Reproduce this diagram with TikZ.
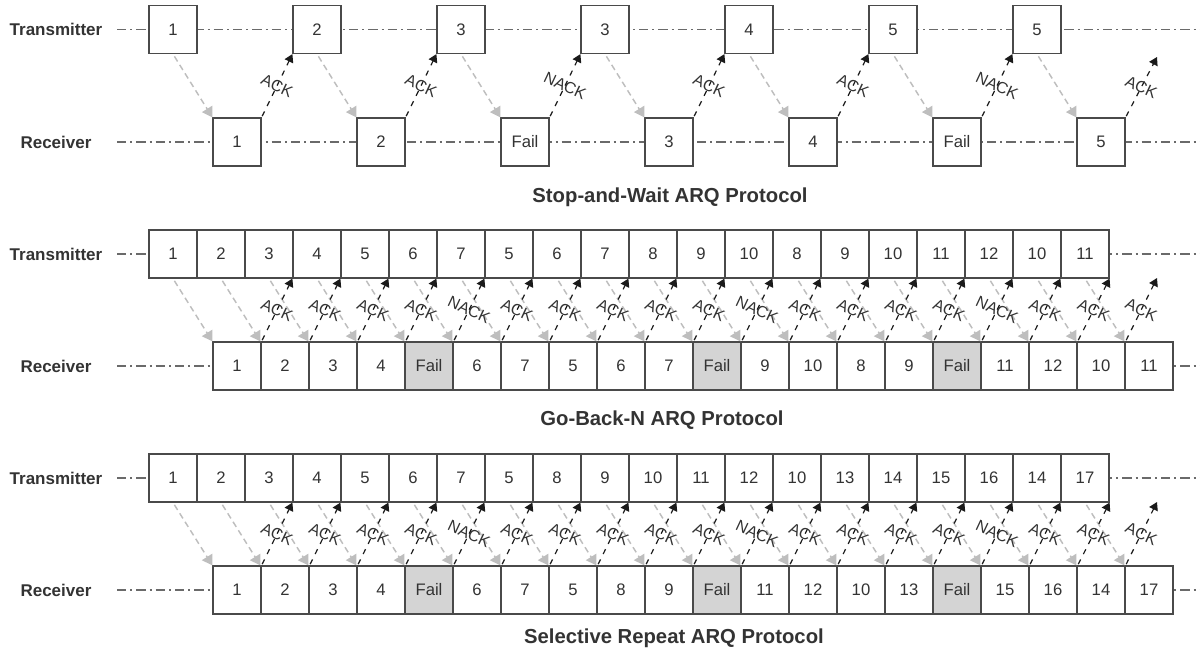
\documentclass[tikz,border=0pt]{standalone}
\usepackage{fontspec}
\setmainfont{Liberation Sans}
\usetikzlibrary{arrows.meta}
\definecolor{ink}{HTML}{333333}
\definecolor{boxline}{HTML}{4A4A4A}
\definecolor{failgray}{HTML}{D4D4D4}
\definecolor{datagray}{HTML}{BEBEBE}
\definecolor{ackink}{HTML}{1A1A1A}
\definecolor{tline}{HTML}{6A6A6A}
\begin{document}
\begin{tikzpicture}[x=0.75pt,y=-0.75pt,
  cell/.style={draw=boxline, line width=0.9pt, minimum width=36pt, minimum height=36pt,
    inner sep=0pt, font=\fontsize{12.5}{14}\selectfont, text=ink},
  rowlabel/.style={font=\fontsize{12.75}{14}\selectfont\bfseries, text=ink, inner sep=0pt},
  ptitle/.style={font=\fontsize{15.2}{17}\selectfont\bfseries, text=ink, anchor=base, inner sep=0pt},
  timeline/.style={draw=tline, line width=0.8pt, dash pattern=on 7pt off 3pt on 1.5pt off 3pt},
  dataarrow/.style={draw=datagray, line width=1.1pt, dash pattern=on 4.5pt off 3pt,
    shorten <=2pt, -{Triangle[length=7.5pt,width=9pt,fill=datagray]}},
  ackarrow/.style={draw=ackink, line width=0.9pt, dash pattern=on 4pt off 4.5pt,
    shorten <=1pt, -{Triangle[length=6pt,width=7pt,fill=ackink]}},
  acklabel/.style={midway, rotate=-25, inner sep=0pt, text=ink, font=\fontsize{12}{14}\selectfont}
]
\useasboundingbox (0,0) rectangle (1200,652);

% ---------------- Stop-and-Wait ----------------
\node[rowlabel] (swTl) at (56,29.5) {Transmitter};
\node[rowlabel] (swRl) at (56,142) {Receiver};
\coordinate (swTs) at (117,29.5); \coordinate (swTe) at (1200,29.5);
\coordinate (swRs) at (117,142);  \coordinate (swRe) at (1200,142);
\draw[timeline] (swTs) -- (swTe);
\draw[timeline] (swRs) -- (swRe);
\foreach \t [count=\i] in {1,2,3,3,4,5,5}
  \node[cell, fill=white] (swt\i) at ({173+144*(\i-1)},29.5) {\t};
\foreach \t [count=\i] in {1,2,Fail,3,4,Fail,5}
  \node[cell, fill=white] (swr\i) at ({237+144*(\i-1)},142) {\t};
\foreach \i in {1,...,7}
  \draw[dataarrow] (swt\i.south) -- (swr\i.north west);
\foreach \i/\lab in {1/ACK,2/ACK,3/NACK,4/ACK,5/ACK,6/NACK} {
  \pgfmathtruncatemacro\j{\i+1}
  \draw[ackarrow] (swr\i.north east) -- node[acklabel]{\lab} (swt\j.south west);
}
\coordinate (swend) at (1157,57);
\draw[ackarrow] (swr7.north east) -- node[acklabel]{ACK} (swend);
\node[ptitle] (swtitle) at (670,203) {Stop-and-Wait ARQ Protocol};

% ---------------- Go-Back-N ----------------
\node[rowlabel] (gTl) at (56,254) {Transmitter};
\node[rowlabel] (gRl) at (56,366) {Receiver};
\coordinate (gTs) at (117,254); \coordinate (gTe) at (1200,254);
\coordinate (gRs) at (117,366); \coordinate (gRe) at (1200,366);
\draw[timeline] (gTs) -- (gTe);
\draw[timeline] (gRs) -- (gRe);
\foreach \t [count=\i] in {1,2,3,4,5,6,7,5,6,7,8,9,10,8,9,10,11,12,10,11}
  \node[cell, fill=white] (gt\i) at ({173+48*(\i-1)},254) {\t};
\foreach \t/\fc [count=\i] in {1/white,2/white,3/white,4/white,Fail/failgray,6/white,7/white,5/white,6/white,7/white,Fail/failgray,9/white,10/white,8/white,9/white,Fail/failgray,11/white,12/white,10/white,11/white}
  \node[cell, fill=\fc] (gr\i) at ({237+48*(\i-1)},366) {\t};
\foreach \i in {1,...,20}
  \draw[dataarrow] (gt\i.south) -- (gr\i.north west);
\foreach \i/\lab in {1/ACK,2/ACK,3/ACK,4/ACK,5/NACK,6/ACK,7/ACK,8/ACK,9/ACK,10/ACK,11/NACK,12/ACK,13/ACK,14/ACK,15/ACK,16/NACK,17/ACK} {
  \pgfmathtruncatemacro\j{\i+3}
  \draw[ackarrow] (gr\i.north east) -- node[acklabel]{\lab} (gt\j.south west);
}
\draw[ackarrow] (gr18.north east) -- node[acklabel]{ACK} (gt20.south east);
\coordinate (gend) at (1157,278);
\draw[ackarrow] (gr19.north east) -- node[acklabel]{ACK} (gend);
\node[ptitle] (gtitle) at (662,426) {Go-Back-N ARQ Protocol};

% ---------------- Selective Repeat ----------------
\node[rowlabel] (sTl) at (56,478) {Transmitter};
\node[rowlabel] (sRl) at (56,590) {Receiver};
\coordinate (sTs) at (117,478); \coordinate (sTe) at (1200,478);
\coordinate (sRs) at (117,590); \coordinate (sRe) at (1200,590);
\draw[timeline] (sTs) -- (sTe);
\draw[timeline] (sRs) -- (sRe);
\foreach \t [count=\i] in {1,2,3,4,5,6,7,5,8,9,10,11,12,10,13,14,15,16,14,17}
  \node[cell, fill=white] (st\i) at ({173+48*(\i-1)},478) {\t};
\foreach \t/\fc [count=\i] in {1/white,2/white,3/white,4/white,Fail/failgray,6/white,7/white,5/white,8/white,9/white,Fail/failgray,11/white,12/white,10/white,13/white,Fail/failgray,15/white,16/white,14/white,17/white}
  \node[cell, fill=\fc] (sr\i) at ({237+48*(\i-1)},590) {\t};
\foreach \i in {1,...,20}
  \draw[dataarrow] (st\i.south) -- (sr\i.north west);
\foreach \i/\lab in {1/ACK,2/ACK,3/ACK,4/ACK,5/NACK,6/ACK,7/ACK,8/ACK,9/ACK,10/ACK,11/NACK,12/ACK,13/ACK,14/ACK,15/ACK,16/NACK,17/ACK} {
  \pgfmathtruncatemacro\j{\i+3}
  \draw[ackarrow] (sr\i.north east) -- node[acklabel]{\lab} (st\j.south west);
}
\draw[ackarrow] (sr18.north east) -- node[acklabel]{ACK} (st20.south east);
\coordinate (send) at (1157,502);
\draw[ackarrow] (sr19.north east) -- node[acklabel]{ACK} (send);
\node[ptitle] (stitle) at (674,643) {Selective Repeat ARQ Protocol};
\end{tikzpicture}
\end{document}
